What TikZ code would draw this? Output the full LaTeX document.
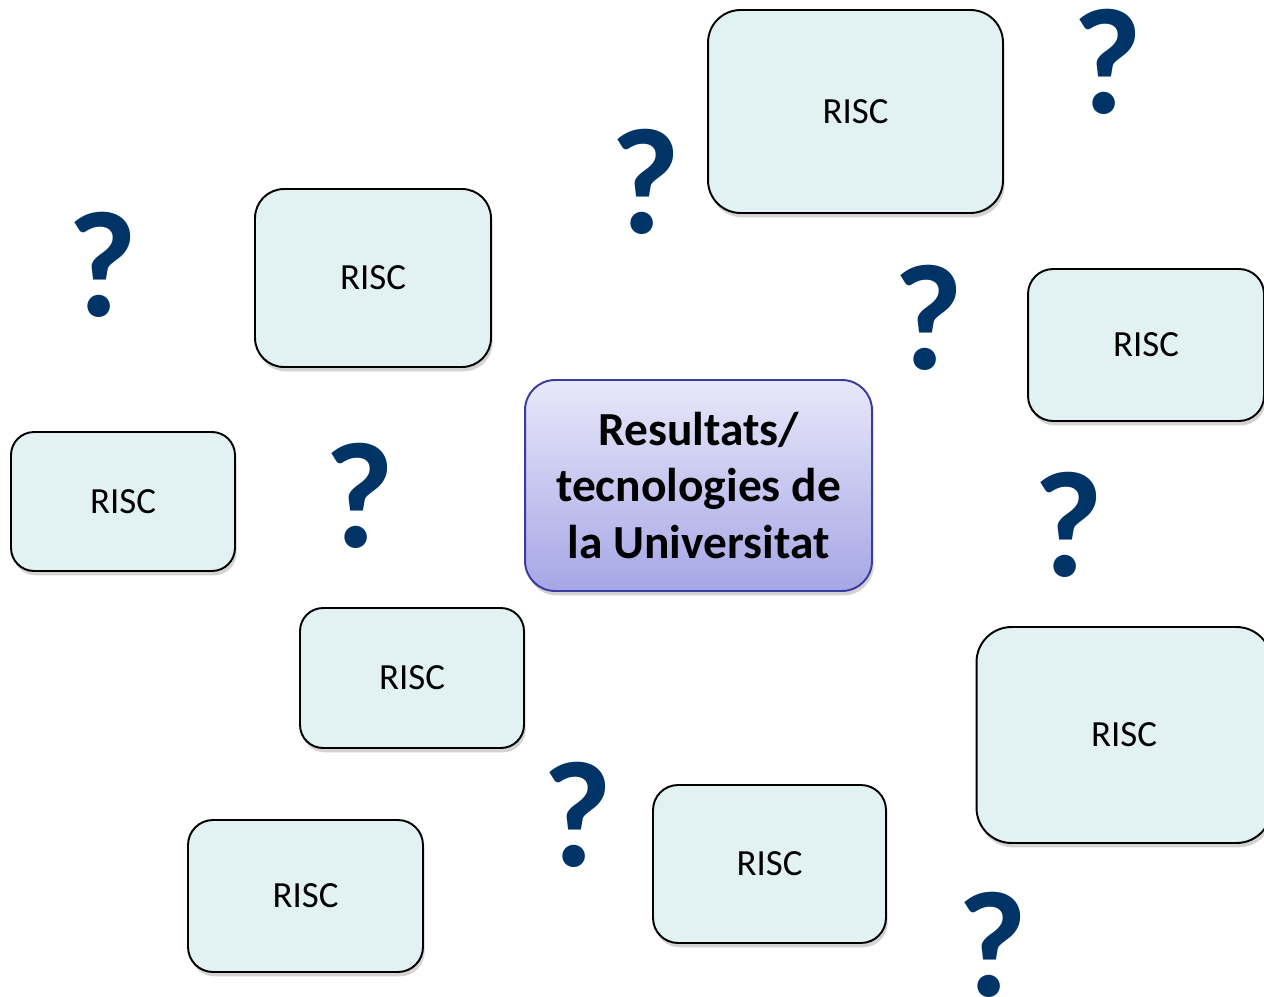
\documentclass[tikz,border=0pt]{standalone}
\usepackage{fontspec}
\setmainfont{Carlito}
\usetikzlibrary{shadows}

\definecolor{riscfill}{RGB}{226,242,242}
\definecolor{qblue}{RGB}{0,51,102}
\definecolor{resborder}{RGB}{58,58,160}
\definecolor{restop}{RGB}{232,232,250}
\definecolor{resbottom}{RGB}{166,166,230}

\tikzset{
  risc/.style={draw=black, line width=1.1pt, fill=riscfill, rounded corners=0.5cm,
    inner sep=0pt, font=\fontsize{21}{25}\selectfont,
    drop shadow={shadow xshift=1pt, shadow yshift=-2.5pt, opacity=0.35}},
  quest/.style={text=qblue, inner sep=0pt, font=\fontsize{86}{86}\selectfont\bfseries},
  result/.style={draw=resborder, line width=1.1pt, top color=restop, bottom color=resbottom,
    rounded corners=0.6cm, inner sep=0pt, align=center,
    font=\fontsize{27}{32.3}\selectfont\bfseries,
    drop shadow={shadow xshift=1pt, shadow yshift=-2.5pt, opacity=0.35}}
}

\begin{document}
\begin{tikzpicture}[x=0.02cm, y=-0.02cm]
\useasboundingbox (0,0) rectangle (1264,997);

% central node
\node[result, minimum width=6.94cm, minimum height=4.22cm] (res) at (698.5,485.5)
    {Resultats/\\tecnologies de\\la Universitat};

% RISC boxes
\node[risc, minimum width=5.9cm, minimum height=4.06cm, rounded corners=0.65cm] (risca) at (855.5,111.5) {RISC};
\node[risc, minimum width=4.72cm, minimum height=3.56cm, rounded corners=0.58cm] (riscb) at (373,278) {RISC};
\node[risc, minimum width=4.72cm, minimum height=3.04cm] (riscc) at (1146,345) {RISC};
\node[risc, minimum width=4.48cm, minimum height=2.78cm, rounded corners=0.46cm] (riscd) at (123,501.5) {RISC};
\node[risc, minimum width=4.48cm, minimum height=2.8cm, rounded corners=0.46cm] (risce) at (412,678) {RISC};
\node[risc, minimum width=5.9cm, minimum height=4.32cm, rounded corners=0.7cm] (riscf) at (1124,735) {RISC};
\node[risc, minimum width=4.66cm, minimum height=3.16cm] (riscg) at (769.5,864) {RISC};
\node[risc, minimum width=4.7cm, minimum height=3.04cm] (risch) at (305.5,896) {RISC};

% question marks
\node[quest] (qa) at (1107,61.5) {?};
\node[quest] (qb) at (645,182) {?};
\node[quest] (qc) at (103,265) {?};
\node[quest] (qd) at (928,318) {?};
\node[quest] (qe) at (360,496) {?};
\node[quest] (qf) at (1068,525) {?};
\node[quest] (qg) at (578,815) {?};
\node[quest] (qh) at (992,945) {?};
\end{tikzpicture}
\end{document}
